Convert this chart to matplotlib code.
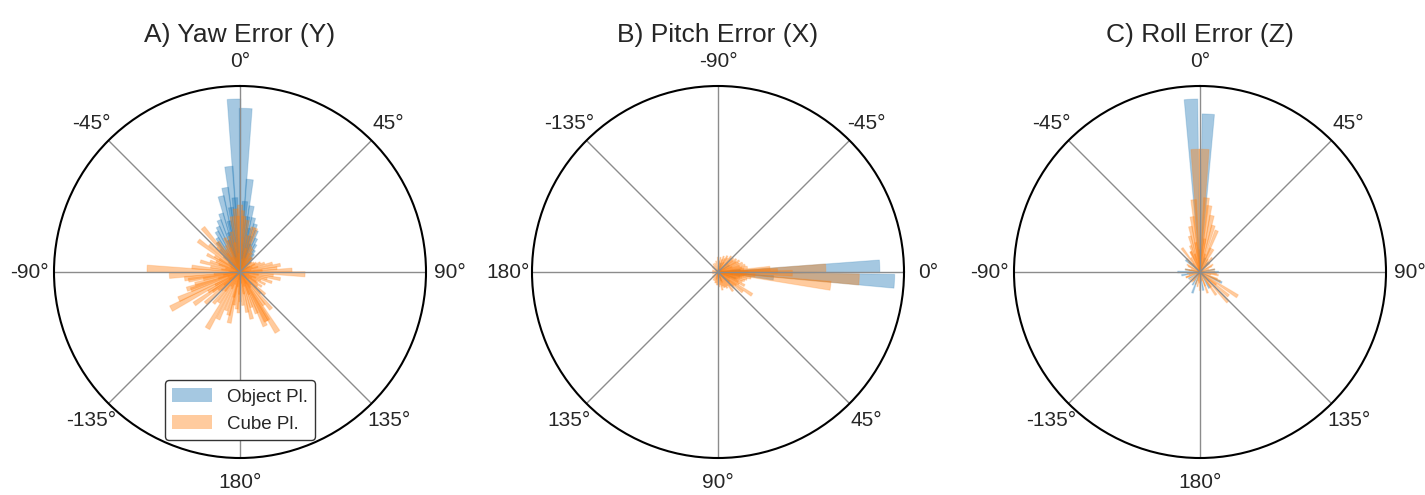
import numpy as np
import matplotlib
matplotlib.use("Agg")
import matplotlib.pyplot as plt
from matplotlib import colors

plt.rcParams['font.family'] = ['Liberation Sans', 'DejaVu Sans']
plt.rcParams['text.color'] = '#262626'
plt.rcParams['xtick.color'] = '#262626'

# Error directions (deg) and normalised magnitudes, one bar each
yaw_obj_deg = [-2, 2, -6, 6, -10, -14, 10, -18, 14, -22, 18, -26, 22, -30, 26, -34, 30,
               -38, 34, -42, 38, -46, 42, -50, 46, -4, 4, -8, 8, -12, 12, -16, 16, -20, 20,
               -90, 180, 90, -130, 130, -60, 60]
yaw_obj_len = [0.93, 0.88, 0.57, 0.50, 0.46, 0.42, 0.36, 0.33, 0.30, 0.30, 0.27, 0.27, 0.24,
               0.25, 0.20, 0.22, 0.17, 0.20, 0.14, 0.16, 0.12, 0.12, 0.10, 0.08, 0.08,
               0.40, 0.38, 0.35, 0.30, 0.28, 0.24, 0.22, 0.20, 0.18, 0.16,
               0.05, 0.04, 0.05, 0.04, 0.04, 0.06, 0.06]
yaw_cube_deg = [0, -4, 4, -8, 8, -12, 12, -16, 16, 20, -20, -24, 24, -28, 28, -32, 32, -36,
                -40, 36, -44, 40, -48, -53, 48, -58, 55, -62, 60, -66, 65, -70, 70, -75, 75,
                -80, 80, -84, 84, -88, 88, -93, 92, -97, 96, -101, 100, -105, 104, -110, 108,
                -114, 112, -118, 116, -122, 120, -126, 124, -130, 128, -135, 132, -140, 136,
                -145, 140, -150, 144, -155, 148, -160, 152, -165, 158, -170, 162, -175, 166,
                180, 170, 175, -125, -132, -108, -99, 150, 155, -178, -168, -2, 2]
yaw_cube_len = [0.36, 0.34, 0.30, 0.30, 0.28, 0.22, 0.20, 0.20, 0.25, 0.25, 0.18, 0.20, 0.15,
                0.16, 0.14, 0.14, 0.12, 0.20, 0.31, 0.10, 0.18, 0.10, 0.22, 0.28, 0.08, 0.16,
                0.09, 0.20, 0.10, 0.14, 0.12, 0.17, 0.14, 0.22, 0.18, 0.16, 0.22, 0.26, 0.20,
                0.50, 0.28, 0.38, 0.35, 0.30, 0.18, 0.20, 0.22, 0.25, 0.15, 0.28, 0.18, 0.36,
                0.12, 0.42, 0.15, 0.20, 0.10, 0.18, 0.14, 0.15, 0.12, 0.14, 0.18, 0.22, 0.16,
                0.20, 0.26, 0.35, 0.22, 0.28, 0.38, 0.22, 0.30, 0.24, 0.24, 0.18, 0.20, 0.20,
                0.26, 0.16, 0.22, 0.18, 0.30, 0.25, 0.30, 0.28, 0.30, 0.32, 0.22, 0.28, 0.30,
                0.33]
# short errors crowding the origin
yaw_cube_short_deg = [-178, -166, -154, -142, -130, -118, -106, -94, -82, -70, -58, -46, -34,
                      -22, -10, 2, 14, 26, 38, 50, 62, 74, 86, 98, 110, 122, 134, 146, 158, 170,
                      -172, -148, -124, -100, -76, -52, -28, -4, 20, 44, 68, 92, 116, 140, 164,
                      -184, -160, -136, -112, -88, -64, -40, -16, 8, 32, 56, 80, 104, 128, 152,
                      176]
yaw_cube_short_len = [0.12, 0.14, 0.10, 0.13, 0.11, 0.15, 0.12, 0.14, 0.10, 0.12, 0.13, 0.11,
                      0.12, 0.14, 0.16, 0.18, 0.13, 0.11, 0.09, 0.08, 0.09, 0.10, 0.12, 0.10,
                      0.09, 0.11, 0.12, 0.10, 0.13, 0.12, 0.08, 0.09, 0.07, 0.09, 0.08, 0.07,
                      0.09, 0.10, 0.08, 0.06, 0.07, 0.08, 0.07, 0.09, 0.08, 0.06, 0.07, 0.06,
                      0.07, 0.06, 0.05, 0.06, 0.08, 0.07, 0.05, 0.05, 0.06, 0.05, 0.06, 0.07,
                      0.06]

pitch_obj_deg = [-2, 3, 6, -5, 10, 20, 40, -30, 70, -70]
pitch_obj_len = [0.87, 0.95, 0.30, 0.12, 0.12, 0.10, 0.08, 0.07, 0.05, 0.05]
pitch_cube_deg = [3, -2, 7, -1, 1, -4, 5, 10, 14, 18, 22, 27, 34, 39, 45, 52, 60, 68, 76, 85,
                  95, 105, 120, 140, 160, 180, -160, -140, -120, -100, -90, -80, -70, -60,
                  -50, -42, -35, -28, -20, -14, -9]
pitch_cube_len = [0.76, 0.58, 0.61, 0.32, 0.40, 0.28, 0.20, 0.18, 0.16, 0.15, 0.14, 0.16, 0.22,
                  0.17, 0.12, 0.13, 0.10, 0.09, 0.10, 0.08, 0.07, 0.06, 0.05, 0.04, 0.03, 0.03,
                  0.03, 0.04, 0.05, 0.06, 0.08, 0.08, 0.09, 0.10, 0.11, 0.11, 0.12, 0.13, 0.14,
                  0.15, 0.16]
pitch_cube_short_deg = [-84, -72, -64, -56, -46, -38, -30, -24, -16, -10, -6, 0, 4, 8, 12, 16,
                        20, 25, 30, 36, 42, 48, 56, 64, 72, 80, 90, 100, 112, 130, 170, -170,
                        -130, -110, -78, -60, -42, -20, -3, 10, 28, 46, 68, 86, 104]
pitch_cube_short_len = [0.06, 0.07, 0.08, 0.09, 0.10, 0.10, 0.11, 0.12, 0.12, 0.13, 0.14, 0.16,
                        0.15, 0.14, 0.13, 0.12, 0.11, 0.12, 0.13, 0.12, 0.11, 0.10, 0.09, 0.09,
                        0.08, 0.07, 0.07, 0.06, 0.05, 0.04, 0.03, 0.03, 0.04, 0.05, 0.05, 0.06,
                        0.07, 0.08, 0.09, 0.08, 0.07, 0.06, 0.06, 0.05, 0.04]

roll_obj_deg = [-3, 3, -90, -100, -160, -150, 150, 116, 90, 80, -80, -50, 170, -120, 40, 20]
roll_obj_len = [0.93, 0.85, 0.12, 0.10, 0.12, 0.08, 0.10, 0.13, 0.10, 0.08, 0.08, 0.10, 0.10,
                0.07, 0.07, 0.08]
roll_cube_deg = [-2, 2, -5, 5, -8, 8, 12, 16, 22, -12, -16, -20, -25, -37, -45, 30, 40, 60, 90,
                 100, 115, 123, 130, 137, 145, 160, 180, -170, -140, -110, -80, -60]
roll_cube_len = [0.66, 0.66, 0.39, 0.40, 0.30, 0.36, 0.31, 0.26, 0.24, 0.25, 0.20, 0.15, 0.12,
                 0.16, 0.10, 0.14, 0.10, 0.08, 0.08, 0.10, 0.12, 0.24, 0.20, 0.22, 0.15, 0.12,
                 0.10, 0.08, 0.07, 0.08, 0.06, 0.08]
roll_cube_short_deg = [-176, -160, -144, -128, -112, -96, -80, -64, -48, -32, -16, 0, 16, 32,
                       48, 64, 80, 96, 112, 128, 144, 160, -8, 8, -24, 24, -168, -136, -104,
                       -72, -40, 40, 72, 104, 136, 168]
roll_cube_short_len = [0.06, 0.07, 0.06, 0.07, 0.08, 0.07, 0.08, 0.07, 0.08, 0.09, 0.10, 0.12,
                       0.10, 0.08, 0.07, 0.07, 0.08, 0.09, 0.10, 0.11, 0.10, 0.08, 0.16, 0.18,
                       0.12, 0.14, 0.05, 0.05, 0.06, 0.05, 0.06, 0.06, 0.05, 0.06, 0.07, 0.05]

titles = ['A) Yaw Error (Y)', 'B) Pitch Error (X)', 'C) Roll Error (Z)']
labels_ns = ['0°', '45°', '90°', '135°', '180°', '-135°', '-90°', '-45°']
labels_e = ['0°', '45°', '90°', '135°', '180°', '-135°', '-90°', '-45°']
series_labels = ['Object Pl.', 'Cube Pl.']

BLUE = '#1f77b4'
ORANGE = '#ff7f0e'
bar_width = np.deg2rad(4.5)

fig = plt.figure(figsize=(14.25, 4.95), dpi=100)
lefts = [54 / 1425, 532 / 1425, 1014 / 1425]
panels = [(yaw_obj_deg, yaw_obj_len, yaw_cube_deg + yaw_cube_short_deg,
           yaw_cube_len + yaw_cube_short_len, 'N', labels_ns),
          (pitch_obj_deg, pitch_obj_len, pitch_cube_deg + pitch_cube_short_deg,
           pitch_cube_len + pitch_cube_short_len, 'E', labels_e),
          (roll_obj_deg, roll_obj_len, roll_cube_deg + roll_cube_short_deg,
           roll_cube_len + roll_cube_short_len, 'N', labels_ns)]

for i, (od, ol, cd, cl, zero, tlabels) in enumerate(panels):
    ax = fig.add_axes([lefts[i], 37 / 495, 372 / 1425, 372 / 495], projection='polar')
    ax.set_theta_zero_location(zero)
    ax.set_theta_direction(-1)
    # faint outline keeps the thin tips visible where bars pile up at the origin
    ax.bar(np.deg2rad(od), ol, width=bar_width, color=colors.to_rgba(BLUE, 0.4),
           edgecolor=colors.to_rgba(BLUE, 0.2), linewidth=0.8, label=series_labels[0])
    ax.bar(np.deg2rad(cd), cl, width=bar_width, color=colors.to_rgba(ORANGE, 0.4),
           edgecolor=colors.to_rgba(ORANGE, 0.2), linewidth=0.8, label=series_labels[1])
    ax.set_ylim(0, 1)
    ax.set_yticks([])
    ax.set_thetagrids(np.arange(0, 360, 45), tlabels, fontsize=15)
    ax.tick_params(axis='x', pad=7)
    ax.grid(True, color='#8c8c8c', linewidth=1)
    ax.spines['polar'].set_color('black')
    ax.spines['polar'].set_linewidth(1.5)
    ax.set_facecolor('white')
    ax.set_title(titles[i], fontsize=19, pad=32)
    if i == 0:
        leg = ax.legend(loc='lower center', bbox_to_anchor=(0.5, 0.023), fontsize=13.5,
                        framealpha=1, edgecolor='#333333', handlelength=2.1, handleheight=0.8)
        for h in leg.legend_handles:
            h.set_linewidth(0)

fig.savefig('out.png', dpi=100, facecolor='white')
